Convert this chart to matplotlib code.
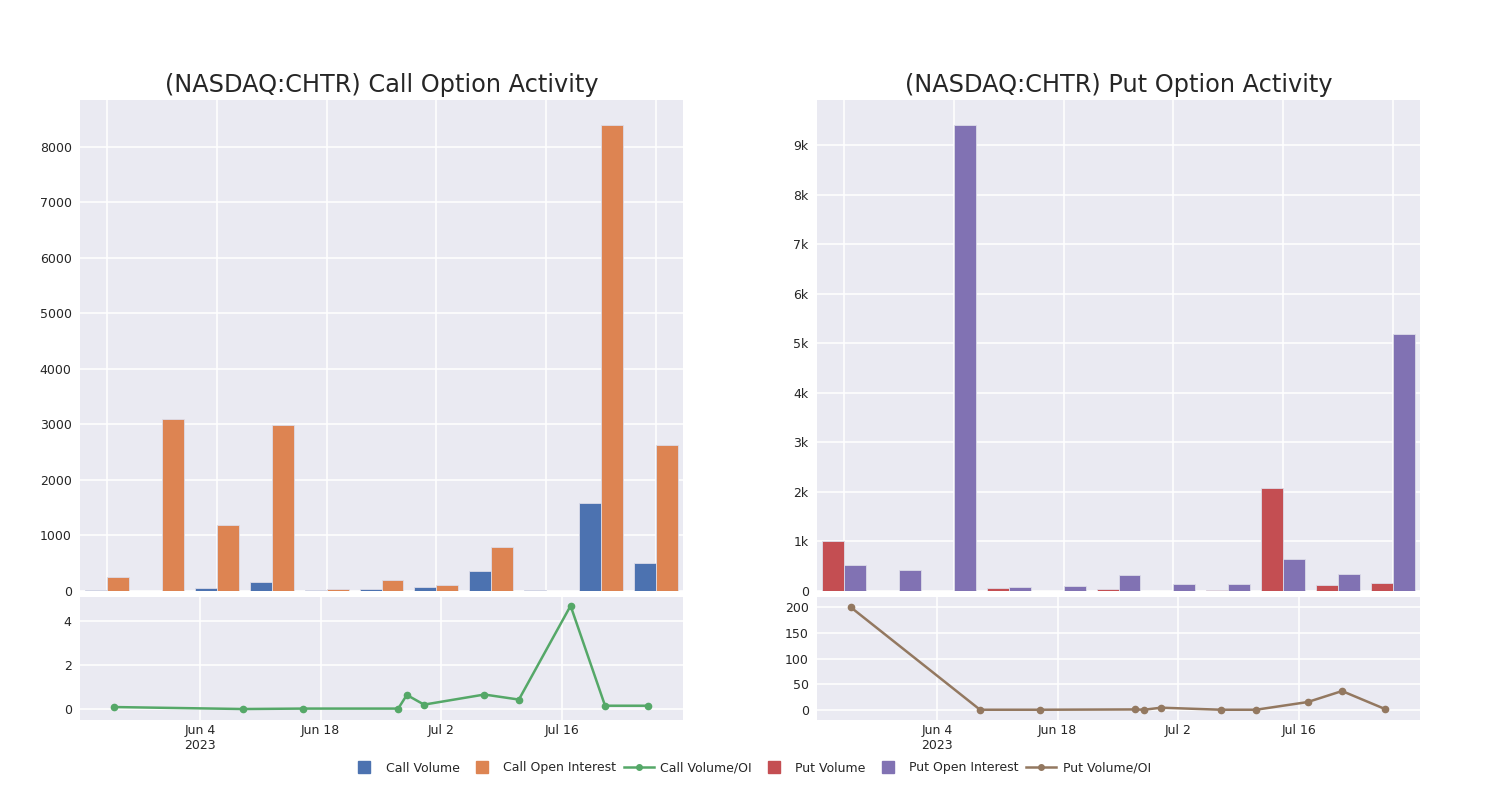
import matplotlib
matplotlib.use("Agg")
import matplotlib.pyplot as plt
from matplotlib.lines import Line2D
import numpy as np
import pandas as pd

# --------------------------------------------
# data
# --------------------------------------------
dates = pd.to_datetime(["2023-05-25", "2023-06-09", "2023-06-16", "2023-06-27",
                        "2023-06-28", "2023-06-30", "2023-07-07", "2023-07-11",
                        "2023-07-17", "2023-07-21", "2023-07-26"])

call_volume = [25, 8, 60, 160, 25, 45, 75, 360, 25, 1580, 505]
call_oi = [250, 3100, 1190, 2990, 45, 195, 105, 790, 5, 8390, 2630]
call_ratio = [0.09, 0.0, 0.02, 0.02, 0.64, 0.2, 0.66, 0.43, 4.7, 0.15, 0.15]

put_volume = [1010, 8, 3, 55, 0, 35, 3, 15, 2080, 125, 165]
put_oi = [530, 425, 9420, 80, 100, 315, 140, 150, 645, 345, 5190]
put_ratio = [200, 0, 0, 0.6, 0, 4, 0, 0, 15, 36.5, 1.3]

BG = "#EAEAF2"
TXT = "#262626"
blue, orange, green = "#4C72B0", "#DD8452", "#55A868"
red, purple, brown = "#C44E52", "#8172B3", "#937860"

plt.rcParams["font.family"] = ["DejaVu Sans"]

fig = plt.figure(figsize=(15, 8), dpi=100)
W, H = 1500, 800


def px_axes(x0, y0, x1, y1):
    return fig.add_axes([x0 / W, (H - y1) / H, (x1 - x0) / W, (y1 - y0) / H])


def style(ax):
    ax.set_facecolor(BG)
    for s in ax.spines.values():
        s.set_visible(False)
    ax.grid(True, color="white", linewidth=1.1)
    ax.set_axisbelow(True)
    ax.tick_params(length=0, labelsize=9, colors=TXT, pad=6)


def bar_panel(ax, v1, v2, c1, c2, ymax, title):
    style(ax)
    x = np.arange(len(v1))
    ax.bar(x - 0.2, v1, width=0.4, color=c1, edgecolor="#dcdce8", linewidth=0.6)
    ax.bar(x + 0.2, v2, width=0.4, color=c2, edgecolor="#dcdce8", linewidth=0.6)
    ax.set_xlim(-0.5, len(v1) - 0.5)
    ax.set_ylim(0, ymax)
    ax.set_xticks(x[::2])
    ax.set_xticklabels([])
    ax.set_title(title, fontsize=17.3, color=TXT, pad=6)


def line_panel(ax, y, c, ylim, yticks):
    style(ax)
    ax.tick_params(axis="x", pad=3)
    ax.plot(dates, y, color=c, linewidth=1.8, marker="o", markersize=4.5)
    ax.set_xlim(pd.Timestamp("2023-05-21 02:00"), pd.Timestamp("2023-07-30 01:00"))
    ax.set_ylim(*ylim)
    ax.set_yticks(yticks)
    ticks = pd.to_datetime(["2023-06-04", "2023-06-18", "2023-07-02", "2023-07-16"])
    ax.set_xticks(ticks)
    ax.set_xticklabels(["Jun 4\n2023", "Jun 18", "Jul 2", "Jul 16"])


# call side
ax1 = px_axes(80, 100, 683, 591)
bar_panel(ax1, call_volume, call_oi, blue, orange, 8838,
          "(NASDAQ:CHTR) Call Option Activity")
ax1.set_yticks(range(0, 9000, 1000))

ax2 = px_axes(80, 597, 683, 720)
line_panel(ax2, call_ratio, green, (-0.5, 5.1), [0, 2, 4])

# put side
ax3 = px_axes(817, 100, 1420, 591)
bar_panel(ax3, put_volume, put_oi, red, purple, 9918,
          "(NASDAQ:CHTR) Put Option Activity")
ax3.set_yticks(range(0, 10000, 1000))
ax3.set_yticklabels(["0"] + [f"{k}k" for k in range(1, 10)])

ax4 = px_axes(817, 597, 1420, 720)
line_panel(ax4, put_ratio, brown, (-20, 220), [0, 50, 100, 150, 200])


def sq(c, label):
    return Line2D([], [], color=c, marker="s", markersize=8, linestyle="none", label=label)


def ln(c, label):
    return Line2D([], [], color=c, marker="o", markersize=4, linewidth=1.8, label=label)


handles = [sq(blue, "Call Volume"), sq(orange, "Call Open Interest"),
           ln(green, "Call Volume/OI"), sq(red, "Put Volume"),
           sq(purple, "Put Open Interest"), ln(brown, "Put Volume/OI")]
fig.legend(handles=handles, loc="center", bbox_to_anchor=(0.5, 1 - 768 / H), ncol=6,
           frameon=False, fontsize=9, handlelength=2.4, handletextpad=0.5,
           columnspacing=0.6, labelcolor=TXT)

fig.savefig("out.png", dpi=100, facecolor="white")
